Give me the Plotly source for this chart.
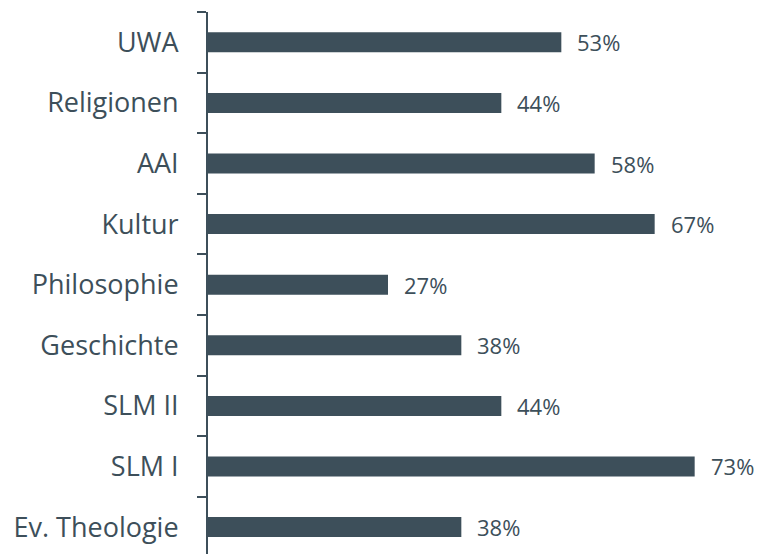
import plotly.graph_objects as go

categories = ["Ev. Theologie", "SLM I", "SLM II", "Geschichte", "Philosophie",
              "Kultur", "AAI", "Religionen", "UWA"]
values = [38, 73, 44, 38, 27, 67, 58, 44, 53]
value_labels = [f"{v}%" for v in values]

COLOR = "#3d4f5a"
FONT = "Open Sans"

fig = go.Figure()
fig.add_trace(go.Bar(
    y=categories, x=values, orientation="h",
    marker=dict(color=COLOR, line=dict(width=0)),
    width=0.33,
    hoverinfo="skip",
))

for c, v, t in zip(categories, values, value_labels):
    fig.add_annotation(x=v, y=c, text=t, xanchor="left", yanchor="middle",
                       xshift=14, showarrow=False,
                       font=dict(family=FONT, size=22, color=COLOR))

fig.update_layout(
    width=760, height=554,
    margin=dict(l=208, r=0, t=12, b=0),
    paper_bgcolor="white", plot_bgcolor="white",
    showlegend=False,
    font=dict(family=FONT, color=COLOR),
    xaxis=dict(range=[0, 82.8], visible=False, showgrid=False, zeroline=False),
    yaxis=dict(
        type="category", categoryorder="array", categoryarray=categories,
        range=[-0.444, 8.5],
        showline=True, linecolor=COLOR, linewidth=2,
        ticks="outside", tickson="boundaries", ticklen=9, tickwidth=2,
        tickcolor=COLOR,
        tickfont=dict(family=FONT, size=27, color=COLOR),
        ticklabelstandoff=22,
        showgrid=False, zeroline=False,
    ),
)

fig.write_html(
    "out.html",
    config={"displayModeBar": False, "staticPlot": True},
    post_script="document.body.style.margin='0';document.body.style.overflow='hidden';",
)
